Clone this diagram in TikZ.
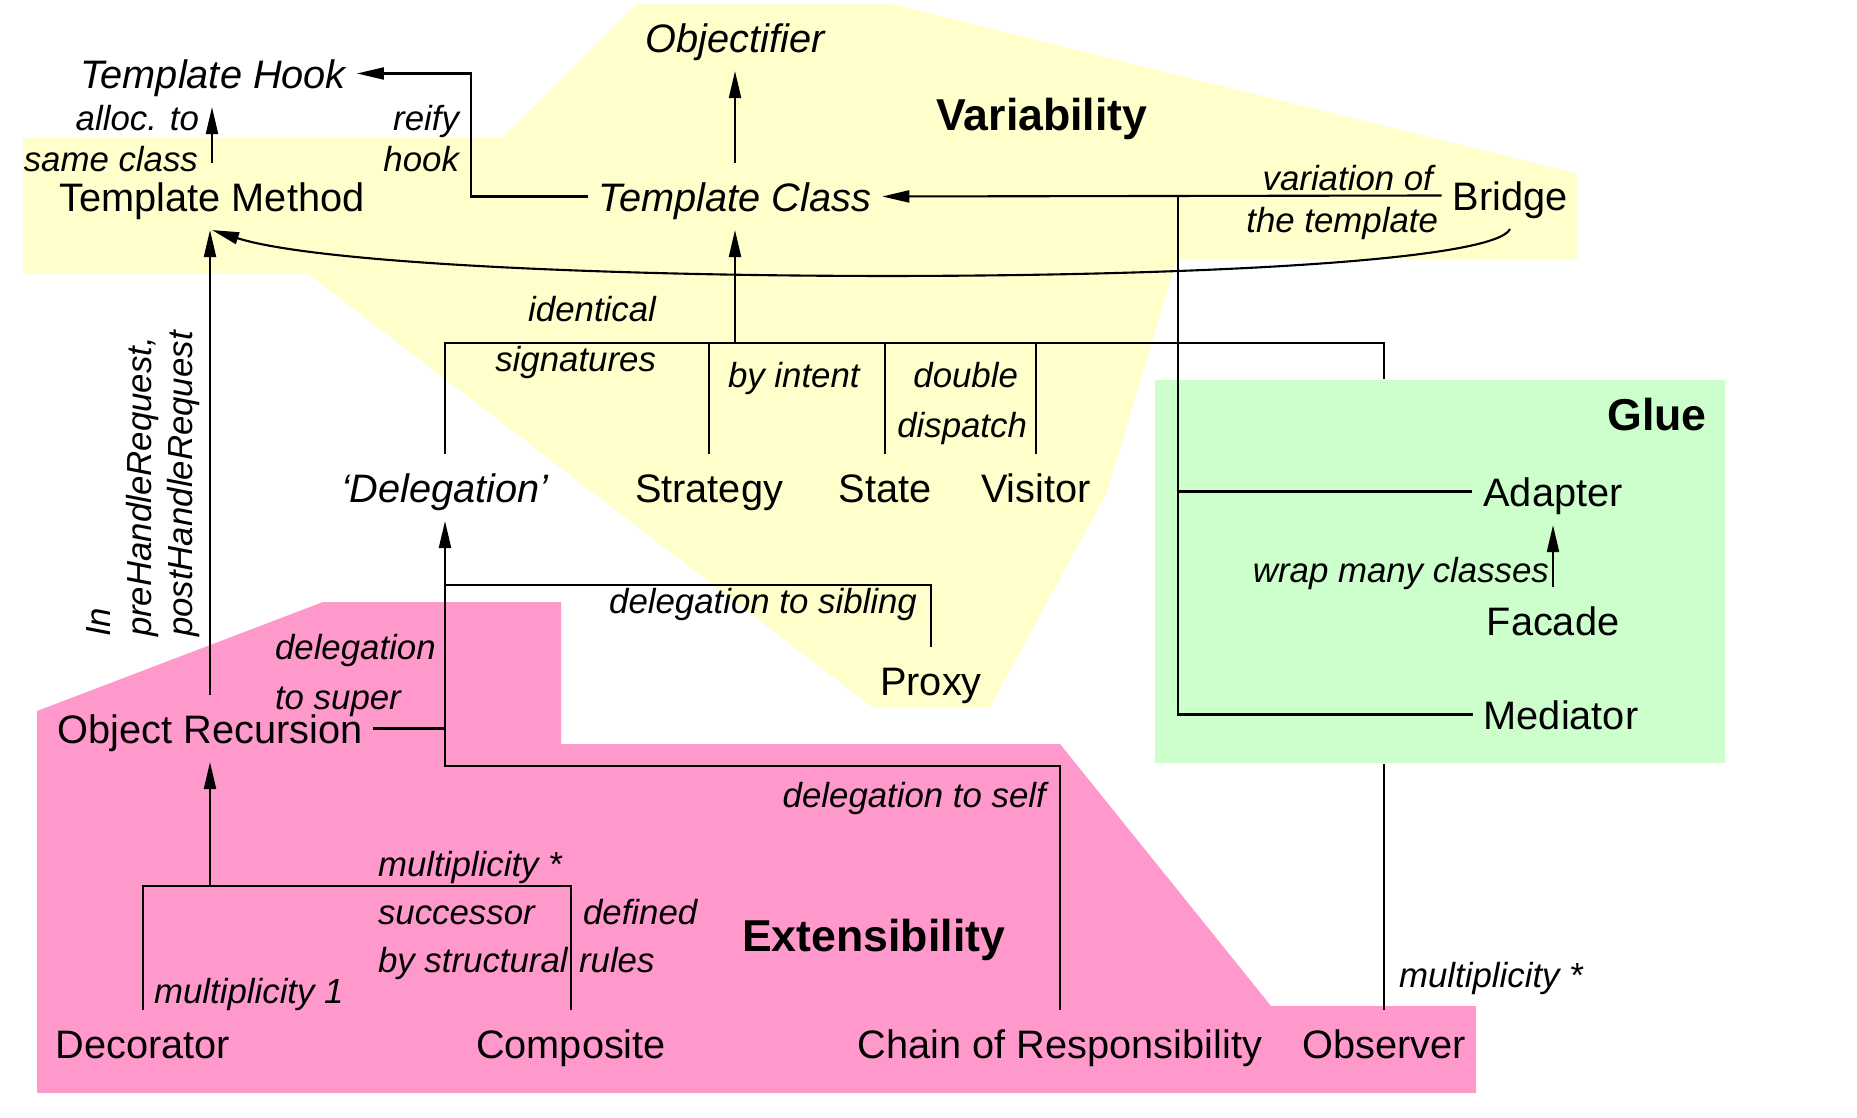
\documentclass[tikz,border=0pt]{standalone}
\usepackage{fontspec}
\setmainfont{Liberation Sans}
\usetikzlibrary{arrows.meta}

\definecolor{varyellow}{RGB}{255,255,204}
\definecolor{extpink}{RGB}{255,153,204}
\definecolor{gluegreen}{RGB}{204,255,204}

\begin{document}
\begin{tikzpicture}[x=0.01cm, y=-0.01cm, line width=0.6pt,
  pat/.style={font=\fontsize{11.3}{13.5}\selectfont, inner sep=0.1cm, text height=0.37cm, text depth=0.08cm, anchor=base},
  ipat/.style={pat, font=\fontsize{11.3}{13.5}\selectfont\itshape},
  lbl/.style={font=\fontsize{9.9}{11.9}\selectfont\itshape, inner sep=0pt, yshift=-0.03cm},
  grp/.style={font=\fontsize{12.7}{15}\selectfont\bfseries, inner sep=0pt, anchor=base},
  arr/.style={-{Triangle[length=0.27cm,width=0.12cm]}}]
\useasboundingbox (0,0) rectangle (1857,1118);

\fill[varyellow] (637,4) -- (892,4) -- (1578,174) -- (1578,259) -- (1177,259) -- (1107,492)
  -- (990,707) -- (872,707) -- (307,273) -- (23,273) -- (23,138) -- (502,138) -- cycle;
\fill[extpink] (37,711) -- (323,602) -- (561,602) -- (561,744) -- (1060,744) -- (1271,1006)
  -- (1476,1006) -- (1476,1093) -- (37,1093) -- cycle;
\node[fill=gluegreen, minimum width=5.70cm, minimum height=3.83cm, inner sep=0pt, anchor=north west] (gluebox) at (1154,379) {};

\node[grp] (variability) at (1042,130) {Variability};
\node[grp] (glue) at (1657,430) {Glue};
\node[grp, anchor=base west] (extensibility) at (741,951) {Extensibility};

\node[ipat] (obj) at (735,52) {Objectifier};
\node[ipat] (th) at (213,88) {Template Hook};
\node[pat] (tm) at (212,211) {Template Method};
\node[ipat] (tc) at (735,211) {Template Class};
\node[pat] (br) at (1510,210) {Bridge};
\node[ipat] (dl) at (445,502) {‘Delegation’};
\node[pat] (st) at (709,502) {Strategy};
\node[pat] (se) at (885,502) {State};
\node[pat] (vi) at (1036,502) {Visitor};
\node[pat] (px) at (931,695) {Proxy};
\node[pat] (ad) at (1553,506) {Adapter};
\node[pat] (fc) at (1553,635) {Facade};
\node[pat] (md) at (1561,729) {Mediator};
\node[pat] (or) at (210,743) {Object Recursion};
\node[pat] (dc) at (143,1058) {Decorator};
\node[pat] (cp) at (571,1058) {Composite};
\node[pat] (ch) at (1060,1058) {Chain of Responsibility};
\node[pat] (ob) at (1384,1058) {Observer};

\coordinate (hookbend) at (471,0);
\coordinate (varbus) at (735,343);
\coordinate (gluebus) at (1178,196);
\coordinate (sibbus) at (445,585);
\coordinate (selfbus) at (445,766);
\coordinate (decbus) at (210,886);

\draw[arr] (tc.north) -- (obj.south);
\draw[arr] (tm.north) -- (tm.north |- th.south);
\draw[arr] (tc.west) -- (tc.west -| hookbend) |- (th.east);
\draw[arr] (br.west) -- (tc.east);
\draw[arr] (br.south) .. controls (1480,290) and (400,290) .. (tm.south);
\draw (br.west -| gluebus) |- (md.west);
\draw (ad.west -| gluebus) -- (ad.west);
\draw[arr] (fc.north) -- (ad.south);

\draw (dl.north) |- (varbus) -| (ob.north |- gluebox.north);
\draw (gluebox.south -| ob.north) -- (ob.north);
\draw[arr] (varbus) -- (tc.south);
\draw (st.north) -- (st.north |- varbus);
\draw (se.north) -- (se.north |- varbus);
\draw (vi.north) -- (vi.north |- varbus);

\draw[arr] (or.north) -- (or.north |- tm.south);
\draw[arr] (ch.north) |- (selfbus) -- (dl.south);
\draw (or.east) -- (or.east -| selfbus);
\draw (px.north) |- (sibbus);
\draw[arr] (decbus) -- (or.south);
\draw (dc.north) |- (decbus) -| (cp.north);

\node[lbl, anchor=base east] (alloc) at (200,127) {alloc. to};
\node[lbl, anchor=base east] (samecl) at (199,168) {same class};
\node[lbl, anchor=base east] (reify) at (460,127) {reify};
\node[lbl, anchor=base east] (hook) at (460,168) {hook};
\node[lbl, anchor=base east] (varof) at (1434,187) {variation of};
\node[lbl, anchor=base east] (thetpl) at (1439,229) {the template};
\node[lbl, anchor=base east] (ident) at (657,318) {identical};
\node[lbl, anchor=base east] (signat) at (657,368) {signatures};
\node[lbl, anchor=base west] (byint) at (727,384) {by intent};
\node[lbl, anchor=base east] (double) at (1019,384) {double};
\node[lbl, anchor=base east] (dispatch) at (1028,434) {dispatch};
\node[lbl, anchor=base east] (sibling) at (918,610) {delegation to sibling};
\node[lbl, anchor=base east] (self) at (1047,804) {delegation to self};
\node[lbl, anchor=base west] (deleg) at (274,656) {delegation};
\node[lbl, anchor=base west] (tosuper) at (274,706) {to super};
\node[lbl, anchor=base west] (multstar) at (377,873) {multiplicity *};
\node[lbl, anchor=base west] (succ) at (377,921) {successor};
\node[lbl, anchor=base west] (bystruct) at (377,969) {by structural};
\node[lbl, anchor=base west] (defd) at (582,921) {defined};
\node[lbl, anchor=base west] (rules) at (578,969) {rules};
\node[lbl, anchor=base west] (multone) at (153,1000) {multiplicity 1};
\node[lbl, anchor=base east] (wrap) at (1550,579) {wrap many classes};
\node[lbl, anchor=base west] (multobs) at (1398,984) {multiplicity *};
\node[rotate=90, align=left, anchor=west, inner sep=0pt, font=\fontsize{9.9}{11.7}\selectfont\itshape] (hreq) at (143,638)
  {In\\preHandleRequest,\\postHandleRequest};
\end{tikzpicture}
\end{document}
